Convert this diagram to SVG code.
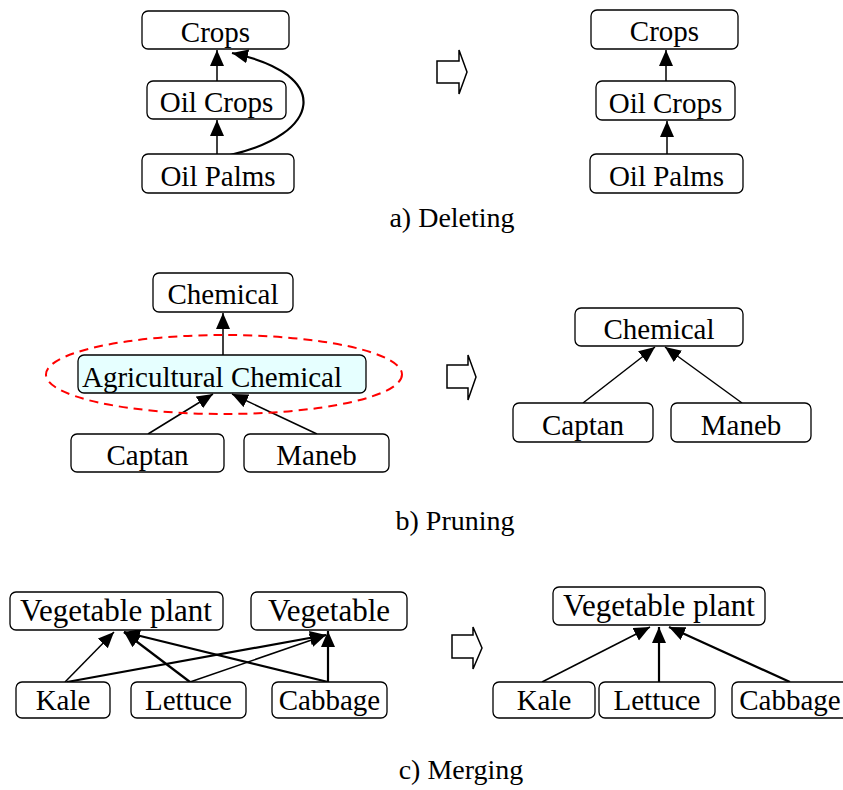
<svg xmlns="http://www.w3.org/2000/svg" width="843" height="790" viewBox="0 0 843 790">
<style>
.box{fill:#fff;stroke:#000;stroke-width:1.3}
.t{font-family:"Liberation Serif","Times New Roman",serif;font-size:29px;fill:#000;text-anchor:middle}
.tc{font-family:"Liberation Serif","Times New Roman",serif;font-size:31px;fill:#000;text-anchor:middle}
.cap{font-family:"Liberation Serif","Times New Roman",serif;font-size:28px;fill:#000;text-anchor:middle}
.e{fill:none;stroke:#000;stroke-width:1.5;marker-end:url(#ah)}
.e2{fill:none;stroke:#000;stroke-width:2.2;marker-end:url(#ah)}
.blk{fill:#fff;stroke:#000;stroke-width:1.5}
</style>
<defs>
<marker id="ah" markerUnits="userSpaceOnUse" markerWidth="17" markerHeight="15" refX="16" refY="7" orient="auto">
<path d="M0,0 L16,7 L0,14 z" fill="#000"/>
</marker>
</defs>
<rect width="843" height="790" fill="#fff"/>

<g id="connectors">
<line class="e" x1="217" y1="81" x2="217" y2="50"/>
<line class="e" x1="217" y1="154" x2="217" y2="120"/>
<path class="e2" d="M230,155 C320,135 335,75 232,53"/>
<line class="e" x1="666" y1="81" x2="666" y2="50"/>
<line class="e" x1="667" y1="154" x2="667" y2="121"/>
<line class="e" x1="223" y1="355" x2="223" y2="313"/>
<line class="e" x1="148" y1="434" x2="213" y2="394"/>
<line class="e" x1="317" y1="434" x2="232" y2="394"/>
<line class="e" x1="583" y1="403" x2="655" y2="347"/>
<line class="e" x1="742" y1="403" x2="665" y2="347"/>
<line class="e" x1="65" y1="682" x2="114" y2="632"/>
<line class="e2" x1="190" y1="682" x2="124" y2="632"/>
<line class="e2" x1="328" y1="682" x2="124" y2="632"/>
<line class="e2" x1="67" y1="682" x2="326" y2="635"/>
<line class="e" x1="190" y1="682" x2="326" y2="635"/>
<line class="e2" x1="328" y1="682" x2="328" y2="631"/>
<line class="e" x1="542" y1="682" x2="650" y2="627"/>
<line class="e2" x1="659" y1="682" x2="659" y2="627"/>
<line class="e2" x1="790" y1="682" x2="669" y2="627"/>
</g>

<g id="transform-arrows">
<polygon class="blk" points="437,61 459,61 459,50 467,72 459,94 459,83 437,83"/>
<polygon class="blk" points="447,365 468,365 468,355 476,377 468,400 468,388 447,388"/>
<polygon class="blk" points="452,635 473,635 473,627 482,648 473,669 473,658 452,658"/>
</g>

<g id="a-crops"><rect class="box" x="142" y="11" width="147" height="38" rx="6"/><text class="t" x="215.5" y="42">Crops</text></g>
<g id="a-oilcrops"><rect class="box" x="147" y="81" width="139" height="38" rx="6"/><text class="t" x="216.5" y="112">Oil Crops</text></g>
<g id="a-oilpalms"><rect class="box" x="142" y="154" width="152" height="39" rx="6"/><text class="t" x="218" y="186">Oil Palms</text></g>
<g id="a2-crops"><rect class="box" x="591" y="10" width="147" height="39" rx="6"/><text class="t" x="664.5" y="41">Crops</text></g>
<g id="a2-oilcrops"><rect class="box" x="596" y="81" width="139" height="39" rx="6"/><text class="t" x="665.5" y="113">Oil Crops</text></g>
<g id="a2-oilpalms"><rect class="box" x="590" y="154" width="153" height="39" rx="6"/><text class="t" x="666.5" y="186">Oil Palms</text></g>
<text class="cap" x="452" y="227">a) Deleting</text>

<g id="b-chemical"><rect class="box" x="153" y="273" width="140" height="39" rx="6"/><text class="t" x="223" y="304">Chemical</text></g>
<g id="b-agri"><rect x="78" y="355" width="288" height="38" rx="6" fill="#e6ffff" stroke="#000" stroke-width="1.3"/><text class="t" x="212" y="387">Agricultural Chemical</text></g>
<ellipse id="b-ellipse" cx="224" cy="374.5" rx="178" ry="39.5" fill="none" stroke="#ff0000" stroke-width="2" stroke-dasharray="9,6"/>
<g id="b-captan"><rect class="box" x="71" y="434" width="153" height="38" rx="6"/><text class="t" x="147.5" y="465">Captan</text></g>
<g id="b-maneb"><rect class="box" x="244" y="434" width="145" height="38" rx="6"/><text class="t" x="316.5" y="465">Maneb</text></g>
<g id="b2-chemical"><rect class="box" x="575" y="308" width="168" height="38" rx="6"/><text class="t" x="659" y="339">Chemical</text></g>
<g id="b2-captan"><rect class="box" x="513" y="403" width="140" height="39" rx="6"/><text class="t" x="583" y="435">Captan</text></g>
<g id="b2-maneb"><rect class="box" x="671" y="403" width="140" height="39" rx="6"/><text class="t" x="741" y="435">Maneb</text></g>
<text class="cap" x="455" y="530">b) Pruning</text>

<g id="c-vegplant"><rect class="box" x="10" y="592" width="213" height="38" rx="6"/><text class="tc" x="116" y="621">Vegetable plant</text></g>
<g id="c-vegetable"><rect class="box" x="251" y="592" width="156" height="38" rx="6"/><text class="tc" x="329" y="621">Vegetable</text></g>
<g id="c-kale"><rect class="box" x="16" y="682" width="94" height="36" rx="6"/><text class="t" x="63" y="710">Kale</text></g>
<g id="c-lettuce"><rect class="box" x="131" y="682" width="115" height="36" rx="6"/><text class="t" x="188.5" y="710">Lettuce</text></g>
<g id="c-cabbage"><rect class="box" x="272" y="682" width="115" height="36" rx="6"/><text class="t" x="329.5" y="710">Cabbage</text></g>
<g id="c2-vegplant"><rect class="box" x="553" y="587" width="212" height="38" rx="6"/><text class="tc" x="659" y="616">Vegetable plant</text></g>
<g id="c2-kale"><rect class="box" x="493" y="682" width="102" height="36" rx="6"/><text class="t" x="544" y="710">Kale</text></g>
<g id="c2-lettuce"><rect class="box" x="599" y="682" width="116" height="36" rx="6"/><text class="t" x="657" y="710">Lettuce</text></g>
<g id="c2-cabbage"><rect class="box" x="732" y="682" width="120" height="36" rx="6"/><text class="t" x="790" y="710">Cabbage</text></g>
<text class="cap" x="461" y="779">c) Merging</text>
</svg>
